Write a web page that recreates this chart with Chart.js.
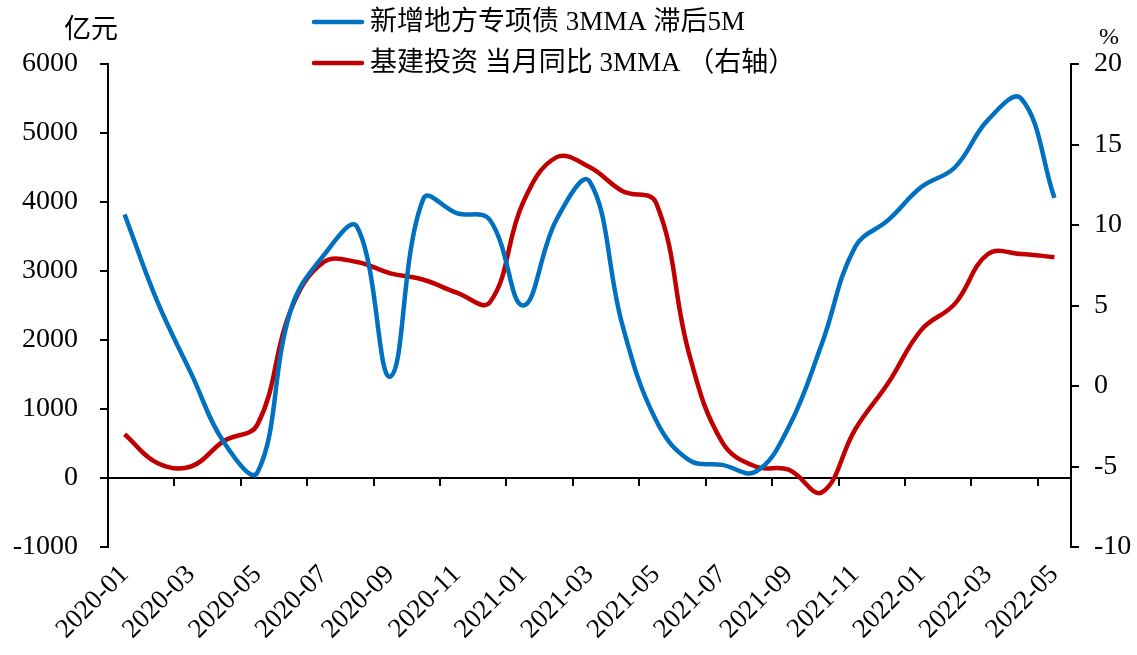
<!DOCTYPE html>
<html>
<head>
<meta charset="utf-8">
<script src="https://cdn.jsdelivr.net/npm/chart.js@4"></script>
<style>
  body { margin: 0; background: #fff; }
  #wrap { width: 1137px; height: 655px; }
</style>
</head>
<body>
<div id="wrap"><canvas id="myChart"></canvas></div>
<script>
// months on the x axis
let months = [
  "2020-01", "2020-02", "2020-03", "2020-04", "2020-05", "2020-06", "2020-07", "2020-08",
  "2020-09", "2020-10", "2020-11", "2020-12", "2021-01", "2021-02", "2021-03", "2021-04",
  "2021-05", "2021-06", "2021-07", "2021-08", "2021-09", "2021-10", "2021-11", "2021-12",
  "2022-01", "2022-02", "2022-03", "2022-04", "2022-05",
];

// 新增地方专项债 3MMA 滞后5M (亿元, left axis)
let debtValues = [
  3820, 2540, 1520, 510, 80, 2430, 3230, 3640, 1470, 4050, 3840, 3740, 2500, 3740, 4300,
  2200, 840, 260, 190, 90, 740, 1950, 3350, 3740, 4220, 4500, 5190, 5500, 4060,
];

// 基建投资 当月同比 3MMA (%, right axis)
let infraValues = [
  -3.0, -4.8, -5.0, -3.4, -2.4, 4.7, 7.7, 7.7, 7.0, 6.6, 5.8, 5.2, 11.4, 14.2, 13.6,
  12.1, 11.4, 2.0, -3.5, -5.0, -5.2, -6.6, -2.7, 0.2, 3.5, 5.1, 8.2, 8.2, 8.0,
];

let seriesNames = ["新增地方专项债 3MMA 滞后5M", "基建投资 当月同比 3MMA （右轴）"];
let leftUnit = "亿元";
let rightUnit = "%";

let FONT = "'Liberation Serif', 'Times New Roman', 'Noto Sans CJK SC', serif";
Chart.defaults.font.family = FONT;
Chart.defaults.font.size = 28;
Chart.defaults.color = "#000";

// x axis line sits on the left-axis zero, with ticks between every other month
let zeroAxis = {
  id: "zeroAxis",
  beforeDatasetsDraw(chart) {
    let c = chart.ctx, x = chart.scales.x, area = chart.chartArea;
    let y0 = chart.scales.y.getPixelForValue(0);
    let half = (x.getPixelForValue(1) - x.getPixelForValue(0)) / 2;
    c.save();
    c.strokeStyle = "#000";
    c.lineWidth = 2;
    c.beginPath();
    c.moveTo(area.left, y0);
    c.lineTo(area.right, y0);
    x.ticks.forEach((t) => {
      let px = Math.round(x.getPixelForValue(t.value) - half);
      c.moveTo(px, y0);
      c.lineTo(px, y0 + 8);
    });
    c.stroke();
    c.restore();
  },
};

// legend and unit labels at the top
let topText = {
  id: "topText",
  afterDraw(chart) {
    let c = chart.ctx;
    c.save();
    c.font = "27px " + FONT;
    c.fillStyle = "#000";
    c.textBaseline = "middle";
    chart.data.datasets.forEach((ds, i) => {
      let y = 22 + i * 41;
      c.strokeStyle = ds.borderColor;
      c.lineWidth = 4.5;
      c.lineCap = "round";
      c.beginPath();
      c.moveTo(314, y);
      c.lineTo(362, y);
      c.stroke();
      c.textAlign = "left";
      c.fillText(ds.label, 370, y + 1);
    });
    c.textAlign = "left";
    c.fillText(leftUnit, 64, 31);
    c.font = "24px " + FONT;
    c.fillText(rightUnit, 1099, 38);
    c.restore();
  },
};

let ctx = document.getElementById("myChart").getContext("2d");

let myChart = new Chart(ctx, {
  type: "line",
  data: {
    labels: months,
    datasets: [
      {
        label: seriesNames[0],
        data: debtValues,
        borderColor: "#0070C0",
        yAxisID: "y",
      },
      {
        label: seriesNames[1],
        data: infraValues,
        borderColor: "#C00000",
        yAxisID: "y1",
      },
    ],
  },
  options: {
    responsive: true,
    maintainAspectRatio: false,
    animation: false,
    layout: { padding: { top: 64, left: 0, right: 0, bottom: 0 } },
    elements: {
      line: { borderWidth: 4.5, tension: 0.4 },
      point: { radius: 0, hoverRadius: 0 },
    },
    plugins: {
      legend: { display: false },
      tooltip: { enabled: false },
    },
    scales: {
      x: {
        offset: true,
        grid: { display: false },
        border: { display: false },
        ticks: {
          autoSkip: true,
          maxTicksLimit: 15,
          minRotation: 45,
          maxRotation: 45,
          padding: 4,
          font: { size: 27 },
        },
        afterFit(s) { s.height = 108; },
      },
      y: {
        position: "left",
        min: -1000,
        max: 6000,
        ticks: { stepSize: 1000, padding: 22, callback: (v) => String(v) },
        grid: { drawOnChartArea: false, tickLength: 8, color: "#000", lineWidth: 2 },
        border: { color: "#000", width: 2 },
        afterFit(s) { s.width = 108; },
      },
      y1: {
        position: "right",
        min: -10,
        max: 20,
        ticks: { stepSize: 5, padding: 15, callback: (v) => String(v) },
        grid: { drawOnChartArea: false, tickLength: 8, color: "#000", lineWidth: 2 },
        border: { color: "#000", width: 2 },
        afterFit(s) { s.width = 66; },
      },
    },
  },
  plugins: [zeroAxis, topText],
});
</script>
</body>
</html>
